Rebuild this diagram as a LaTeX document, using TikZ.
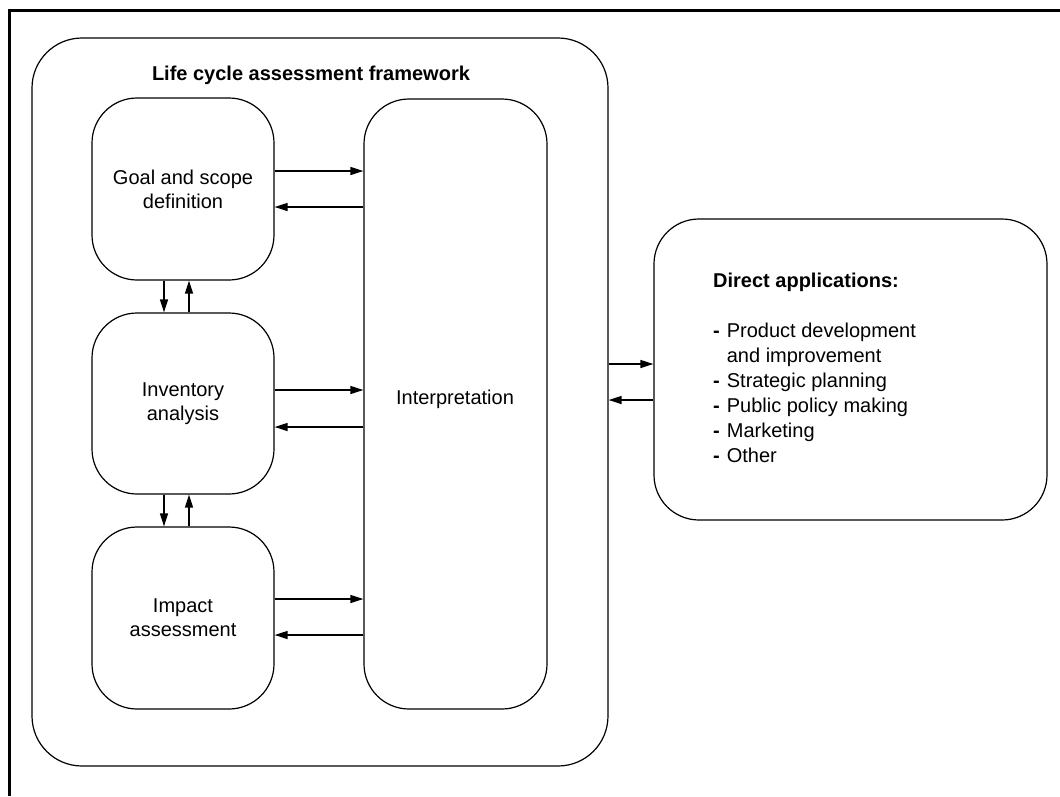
\documentclass[tikz,border=0pt]{standalone}
\usepackage{fontspec}
\setmainfont{Liberation Sans}
\usetikzlibrary{arrows.meta}
\begin{document}
\begin{tikzpicture}[x=1pt,y=-1pt,
  box/.style={draw, line width=1.2pt, rounded corners=45pt, inner sep=0pt, minimum width=182pt},
  lbl/.style={font=\fontsize{20}{24}\selectfont, align=center, inner sep=0pt},
  arr/.style={line width=1.3pt, -{Triangle[length=13pt,width=8pt]}},
  frameln/.style={line width=3pt}]
\useasboundingbox (0,0) rectangle (1060,796);
\fill[white] (0,0) rectangle (1060,796);
% outer frame (top and left edges only)
\coordinate (fbl) at (9,796);
\coordinate (ftl) at (9,10.5);
\coordinate (ftr) at (1060,10.5);
\draw[frameln] (fbl) -- (ftl) -- (ftr);
% framework box
\node[box, rounded corners=50pt, minimum width=576pt, minimum height=728pt] (lca) at (320,402) {};
\node[lbl, font=\fontsize{20}{24}\selectfont\bfseries] (lcatitle) at (311,75) {Life cycle assessment framework};
% phase boxes
\node[box, minimum height=182pt] (goal) at (183,189) {};
\node[box, minimum height=181pt] (inv) at (183,403.5) {};
\node[box, minimum height=182pt] (imp) at (183,618) {};
\node[box, minimum width=183pt, minimum height=610pt] (interp) at (455.5,404) {};
\node[lbl] (goaltext) at (goal.center) {Goal and scope\\definition};
\node[lbl] (invtext) at (inv.center) {Inventory\\analysis};
\node[lbl] (imptext) at (imp.center) {Impact\\assessment};
\node[lbl] (interptext) at (455,399) {Interpretation};
% applications box
\node[box, minimum width=393pt, minimum height=301pt] (apps) at (850.5,369.5) {};
\node[anchor=north west, inner sep=0pt, font=\fontsize{20}{25}\selectfont] (appstext) at (713,269.5) {%
\begin{tabular}{@{}l@{\hspace{7pt}}l@{}}
\multicolumn{2}{@{}l@{}}{\bfseries Direct applications:}\\
 & \\
\textbf{-} & Product development\\
 & and improvement\\
\textbf{-} & Strategic planning\\
\textbf{-} & Public policy making\\
\textbf{-} & Marketing\\
\textbf{-} & Other
\end{tabular}};
% horizontal arrows phases <-> interpretation
\draw[arr] ([yshift=18pt]goal.east) -- ([yshift=18pt]goal.east -| interp.west);
\draw[arr] ([yshift=-18pt]goal.east -| interp.west) -- ([yshift=-18pt]goal.east);
\draw[arr] ([yshift=13.5pt]inv.east) -- ([yshift=13.5pt]inv.east -| interp.west);
\draw[arr] ([yshift=-23.5pt]inv.east -| interp.west) -- ([yshift=-23.5pt]inv.east);
\draw[arr] ([yshift=19pt]imp.east) -- ([yshift=19pt]imp.east -| interp.west);
\draw[arr] ([yshift=-17pt]imp.east -| interp.west) -- ([yshift=-17pt]imp.east);
% vertical arrows between phases
\draw[arr] ([xshift=-19pt]goal.south) -- ([xshift=-19pt]goal.south |- inv.north);
\draw[arr] ([xshift=6pt]goal.south |- inv.north) -- ([xshift=6pt]goal.south);
\draw[arr] ([xshift=-19pt]inv.south) -- ([xshift=-19pt]inv.south |- imp.north);
\draw[arr] ([xshift=6pt]inv.south |- imp.north) -- ([xshift=6pt]inv.south);
% framework <-> applications
\draw[arr] ([yshift=5.5pt]apps.west -| lca.east) -- ([yshift=5.5pt]apps.west);
\draw[arr] ([yshift=-30.5pt]apps.west) -- ([yshift=-30.5pt]apps.west -| lca.east);
\end{tikzpicture}
\end{document}
